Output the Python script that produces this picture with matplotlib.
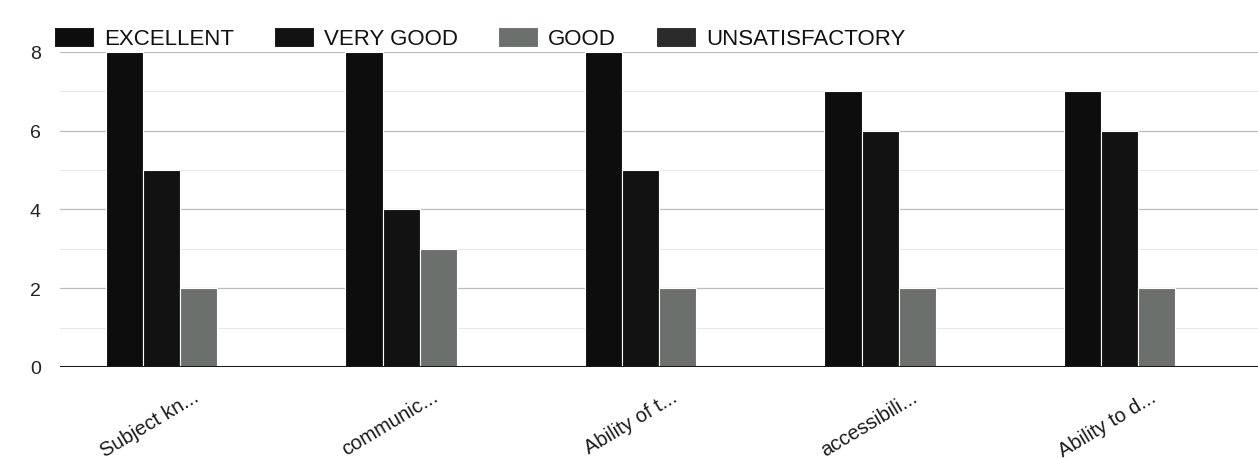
import matplotlib
matplotlib.use("Agg")
import matplotlib.pyplot as plt
import numpy as np

categories = ["Subject kn...", "communic...", "Ability of t...", "accessibili...", "Ability to d..."]
series_names = ["EXCELLENT", "VERY GOOD", "GOOD", "UNSATISFACTORY"]
excellent = [8, 8, 8, 7, 7]
very_good = [5, 4, 5, 6, 6]
good = [2, 3, 2, 2, 2]
unsatisfactory = [0, 0, 0, 0, 0]
y_ticks = [0, 2, 4, 6, 8]

series_values = [excellent, very_good, good, unsatisfactory]
colors = ["#0d0d0d", "#121212", "#6c706c", "#2b2b2b"]

plt.rcParams["font.family"] = ["Liberation Sans", "DejaVu Sans"]

fig = plt.figure(figsize=(12.58, 4.6), dpi=100)
ax = fig.add_axes([0.048, 0.2, 0.952, 0.685])

x = np.arange(len(categories))
n = len(series_values)
width = 0.155
handles = []
for k, (name, vals, col) in enumerate(zip(series_names, series_values, colors)):
    offs = (k - (n - 1) / 2) * width
    b = ax.bar(x + offs, vals, width, color=col, edgecolor="white", linewidth=0.8,
               label=name, zorder=3)
    handles.append(b)

ax.set_xlim(-0.5, len(categories) - 0.5)
ax.set_ylim(0, 8)

# grid lines: major at ticks, faint minor between them
ax.set_yticks(y_ticks)
ax.set_yticks([1, 3, 5, 7], minor=True)
ax.grid(axis="y", which="major", color="#bdbdbd", linewidth=0.9, zorder=0)
ax.grid(axis="y", which="minor", color="#e6e6e6", linewidth=0.7, zorder=0)
ax.axhline(0, color="#1a1a1a", linewidth=2.2, zorder=4)

for s in ax.spines.values():
    s.set_visible(False)
ax.tick_params(axis="both", which="both", length=0)
ax.tick_params(axis="y", labelsize=14, labelcolor="#222222", pad=14)
ax.set_yticklabels([str(v) for v in y_ticks])

ax.set_xticks(x)
ax.set_xticklabels([])
for i, lab in enumerate(categories):
    ax.annotate(lab, xy=(i, 0), xycoords=("data", "axes fraction"),
                xytext=(12, -20), textcoords="offset points",
                rotation=31, rotation_mode="anchor", ha="right", va="center",
                fontsize=14.5, color="#1a1a1a")

fig.legend(handles=handles, labels=series_names, loc="center left",
           bbox_to_anchor=(0.034, 0.915), ncol=4, frameon=False,
           fontsize=16, handlelength=1.8, handleheight=1.0,
           handletextpad=0.45, columnspacing=1.8, borderpad=0,
           labelcolor="#111111")

fig.savefig("out.png", dpi=100, facecolor="white")
